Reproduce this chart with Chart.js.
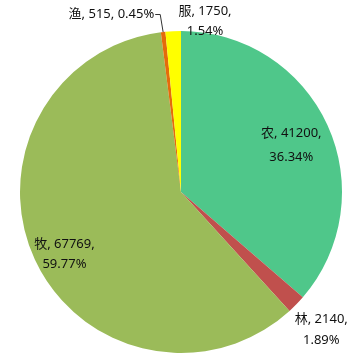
<!DOCTYPE html>
<html>
<head>
<meta charset="utf-8">
<script src="https://cdn.jsdelivr.net/npm/chart.js@4/dist/chart.umd.min.js"></script>
<style>
  html, body { margin: 0; padding: 0; background: #fff; }
  #wrap { width: 364px; height: 361px; }
</style>
</head>
<body>
<div id="wrap"><canvas id="pieChart"></canvas></div>
<script>
// data
const categories = ["农", "林", "牧", "渔", "服"];
const values = [41200, 2140, 67769, 515, 1750];
const percents = ["36.34%", "1.89%", "59.77%", "0.45%", "1.54%"];
const colors = ["#4fc78a", "#c0504d", "#9bbb59", "#e46c0a", "#ffff00"];

// where each label sits, relative to its slice (radius fraction, angle shift in degrees)
const placement = [
    {r: 0.745, shift: 1.5, gap: 24, mode: "two"},
    {r: 1.22, shift: 0.2, gap: 21, mode: "two"},
    {r: 0.82, shift: -3.2, gap: 20, mode: "two"},
    {r: 1.11, shift: -0.3, gap: 0, mode: "leader"},
    {r: 1.07, shift: 10.8, gap: 20, mode: "two"}
];

const labelPlugin = {
    id: "sliceLabels",
    afterDraw(chart) {
        let ctx = chart.ctx;
        let arcs = chart.getDatasetMeta(0).data;
        ctx.save();
        ctx.font = "13px 'Noto Sans', 'Noto Sans CJK SC', sans-serif";
        ctx.fillStyle = "#111";
        ctx.textBaseline = "middle";
        for (let i = 0; i < arcs.length; i++) {
            let p = arcs[i].getProps(["x", "y", "startAngle", "endAngle", "outerRadius"], true);
            let pl = placement[i];
            let mid = (p.startAngle + p.endAngle) / 2;
            let a = mid + pl.shift * Math.PI / 180;
            let px = p.x + Math.cos(a) * pl.r * p.outerRadius;
            let py = p.y + Math.sin(a) * pl.r * p.outerRadius;
            if (pl.mode == "two") {
                ctx.textAlign = "center";
                ctx.fillText(categories[i] + ", " + values[i] + ",", px, py - pl.gap / 2);
                ctx.fillText(percents[i], px, py + pl.gap / 2);
            } else {
                let ex = p.x + Math.cos(mid) * p.outerRadius;
                let ey = p.y + Math.sin(mid) * p.outerRadius;
                ctx.strokeStyle = "#333";
                ctx.lineWidth = 1;
                ctx.beginPath();
                ctx.moveTo(ex, ey);
                ctx.lineTo(px, py);
                ctx.lineTo(px - 5, py);
                ctx.stroke();
                ctx.textAlign = "right";
                ctx.fillText(categories[i] + ", " + values[i] + ", " + percents[i], px - 6, py);
            }
        }
        ctx.restore();
    }
};

new Chart(document.getElementById("pieChart"), {
    type: "pie",
    data: {
        labels: categories,
        datasets: [{
            data: values,
            backgroundColor: colors,
            borderWidth: 0
        }]
    },
    options: {
        responsive: true,
        maintainAspectRatio: false,
        animation: false,
        layout: {padding: {left: 20, right: 22, top: 31, bottom: 8}},
        plugins: {
            legend: {display: false},
            tooltip: {enabled: false}
        }
    },
    plugins: [labelPlugin]
});
</script>
</body>
</html>
